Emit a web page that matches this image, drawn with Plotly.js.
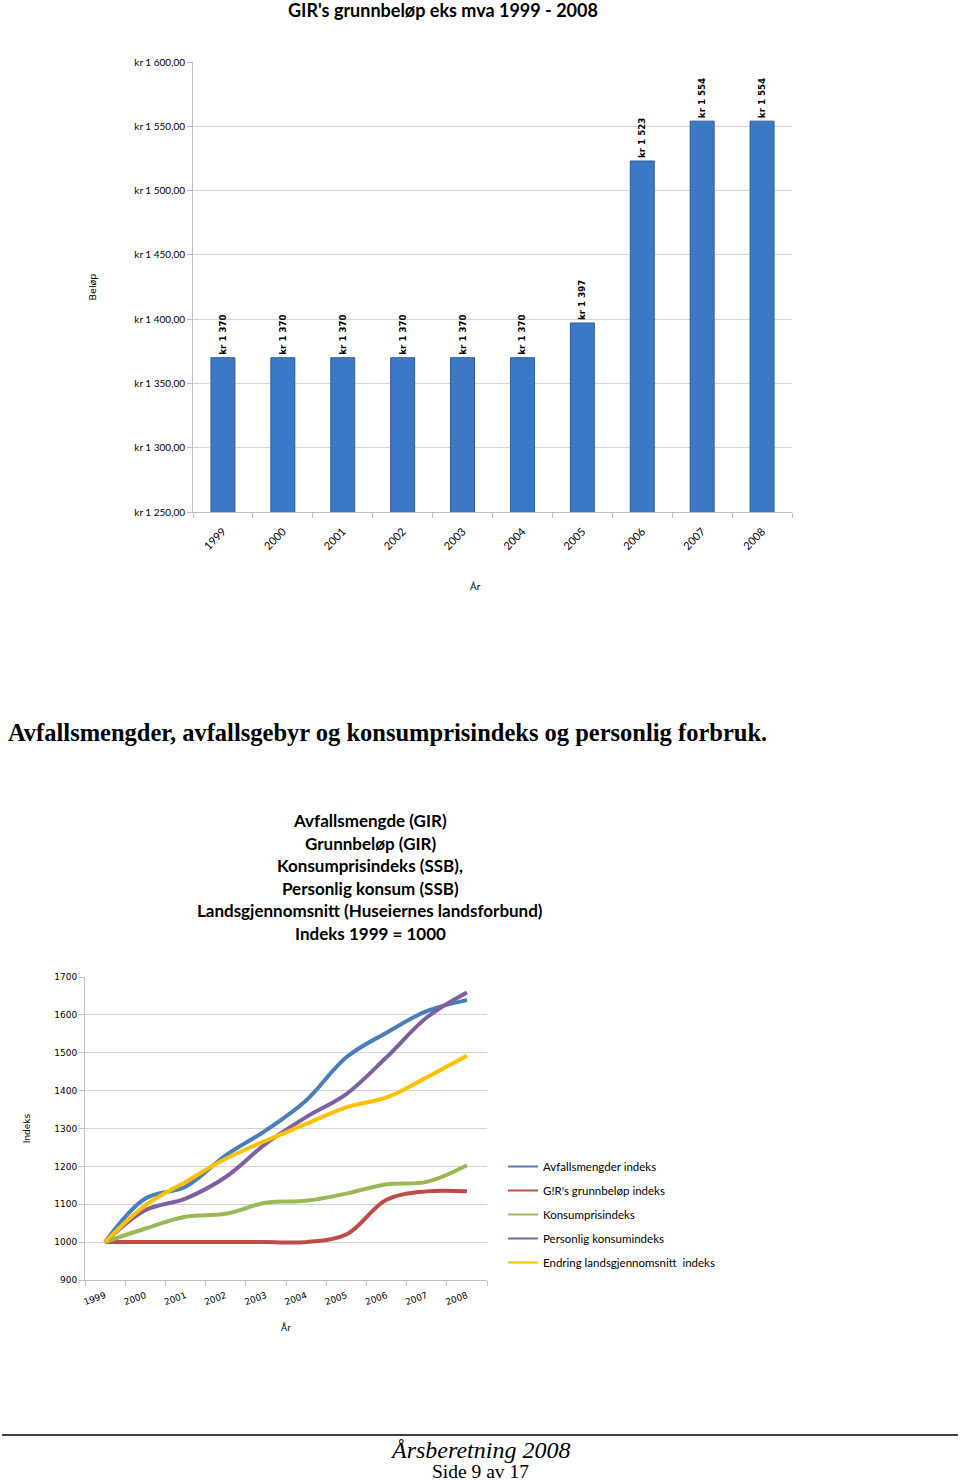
<!DOCTYPE html>
<html>
<head>
<meta charset="utf-8">
<script src="https://cdn.plot.ly/plotly-3.0.1.min.js"></script>
<style>
  html, body { margin: 0; padding: 0; background: #fff; }
  #page { width: 960px; height: 1483px; }
</style>
</head>
<body>
<div id="page"></div>
<script>
const W = 960;
const H = 1483;

// page pixel -> paper coordinates
const px = (p) => p / W;
const py = (p) => 1 - p / H;

const years = ["1999", "2000", "2001", "2002", "2003", "2004", "2005", "2006", "2007", "2008"];

// GIR's grunnbeløp eks mva (kr)
const grunnbelop = [1370, 1370, 1370, 1370, 1370, 1370, 1397, 1523, 1554, 1554];

// Indeks 1999 = 1000
const avfallsmengder = [1000, 1115, 1146, 1229, 1295, 1374, 1488, 1553, 1610, 1639];
const girGrunnbelop = [1000, 1000, 1000, 1000, 1000, 1000, 1020, 1112, 1134, 1134];
const konsumpris = [1000, 1036, 1067, 1075, 1104, 1109, 1128, 1153, 1159, 1203];
const personligKonsum = [1000, 1084, 1115, 1172, 1260, 1330, 1391, 1488, 1593, 1659];
const landsgjennomsnitt = [1000, 1097, 1159, 1220, 1268, 1312, 1356, 1382, 1435, 1492];

const seriesNames = [
  "Avfallsmengder indeks",
  "G!R's grunnbeløp indeks",
  "Konsumprisindeks",
  "Personlig konsumindeks",
  "Endring landsgjennomsnitt  indeks",
];
const seriesValues = [avfallsmengder, girGrunnbelop, konsumpris, personligKonsum, landsgjennomsnitt];
const seriesColors = ["#4a7ebb", "#be4b48", "#98b954", "#7d60a0", "#ffc000"];

const lineTitle = [
  "Avfallsmengde (GIR)",
  "Grunnbeløp (GIR)",
  "Konsumprisindeks (SSB),",
  "Personlig konsum (SSB)",
  "Landsgjennomsnitt (Huseiernes landsforbund)",
  "Indeks 1999 = 1000",
];

const calibri = "Lato, 'Open Sans', sans-serif";
const verdana = "'DejaVu Sans', Verdana, sans-serif";
const times = "'Liberation Serif', 'Times New Roman', serif";

const barTrace = {
  type: "bar",
  x: years,
  y: grunnbelop,
  xaxis: "x",
  yaxis: "y",
  marker: { color: "#3b78c6", line: { color: "#2d5c9c", width: 1 } },
  texttemplate: "kr %{y:,.0f}",
  textposition: "outside",
  textangle: -90,
  constraintext: "none",
  cliponaxis: false,
  textfont: { family: verdana, size: 8.7, weight: "bold", color: "#000" },
  showlegend: false,
  hoverinfo: "skip",
};

// thin copies carry the legend entries, thick copies are drawn on top
const legendTraces = seriesValues.map((vals, i) => ({
  type: "scatter",
  mode: "lines",
  x: years,
  y: vals,
  xaxis: "x2",
  yaxis: "y2",
  name: seriesNames[i],
  legendgroup: "g" + i,
  line: { color: seriesColors[i], width: 2, shape: "spline", smoothing: 1 },
  hoverinfo: "skip",
}));

const lineTraces = seriesValues.map((vals, i) => ({
  type: "scatter",
  mode: "lines",
  x: years,
  y: vals,
  xaxis: "x2",
  yaxis: "y2",
  name: seriesNames[i],
  legendgroup: "g" + i,
  showlegend: false,
  line: { color: seriesColors[i], width: 4, shape: "spline", smoothing: 1 },
  hoverinfo: "skip",
}));

const axisLine = "#bfbfbf";
const gridColor = "#d4d4d4";

const annotations = [
  {
    text: "År",
    xref: "paper", yref: "paper",
    x: px(475), xanchor: "center",
    y: py(586), yanchor: "middle",
    showarrow: false,
    font: { family: calibri, size: 10, color: "#000" },
  },
  {
    text: "Avfallsmengder, avfallsgebyr og konsumprisindeks og personlig forbruk.",
    xref: "paper", yref: "paper",
    x: px(6), xanchor: "left",
    y: py(732), yanchor: "middle",
    showarrow: false,
    font: { family: times, size: 24.5, weight: "bold", color: "#000" },
  },
  {
    text: "<i>Årsberetning 2008</i>",
    xref: "paper", yref: "paper",
    x: 0.5, xanchor: "center",
    y: py(1450), yanchor: "middle",
    showarrow: false,
    font: { family: times, size: 24, color: "#000" },
  },
  {
    text: "Side 9 av 17",
    xref: "paper", yref: "paper",
    x: 0.5, xanchor: "center",
    y: py(1471), yanchor: "middle",
    showarrow: false,
    font: { family: times, size: 19.5, color: "#000" },
  },
];

lineTitle.forEach((line, i) => {
  annotations.push({
    text: line,
    xref: "paper", yref: "paper",
    x: px(370), xanchor: "center",
    y: py(821 + i * 22.4), yanchor: "middle",
    showarrow: false,
    font: { family: calibri, size: 17, weight: "bold", color: "#000" },
  });
});

const layout = {
  width: W,
  height: H,
  margin: { l: 0, r: 0, t: 0, b: 0 },
  paper_bgcolor: "#fff",
  plot_bgcolor: "#fff",
  separators: ", ",
  bargap: 0.6,
  title: {
    text: "GIR's grunnbeløp eks mva 1999 - 2008",
    font: { family: calibri, size: 18, weight: "bold", color: "#000" },
    x: px(443),
    xanchor: "center",
    y: py(11),
    yanchor: "middle",
  },
  xaxis: {
    domain: [px(193), px(792)],
    anchor: "y",
    type: "category",
    range: [-0.5, 9.5],
    tickangle: -45,
    tickfont: { family: calibri, size: 11, color: "#000" },
    ticklabelstandoff: 8,
    ticks: "outside",
    tickson: "boundaries",
    ticklen: 5,
    tickcolor: axisLine,
    showline: true,
    linecolor: axisLine,
    showgrid: false,
  },
  yaxis: {
    domain: [py(512), py(62)],
    anchor: "x",
    range: [1250, 1600],
    dtick: 50,
    tickprefix: "kr ",
    tickformat: ",.2f",
    tickfont: { family: calibri, size: 10, color: "#000" },
    ticks: "outside",
    ticklen: 5,
    tickcolor: axisLine,
    showline: true,
    linecolor: axisLine,
    showgrid: true,
    gridcolor: gridColor,
    zeroline: false,
    title: { text: "Beløp", font: { family: verdana, size: 9.5, color: "#000" }, standoff: 35 },
  },
  xaxis2: {
    domain: [px(85), px(487)],
    anchor: "y2",
    type: "category",
    range: [-0.5, 9.5],
    tickangle: -20,
    tickfont: { family: verdana, size: 9, color: "#000" },
    ticklabelstandoff: 6,
    ticks: "outside",
    tickson: "boundaries",
    ticklen: 5,
    tickcolor: axisLine,
    showline: true,
    linecolor: axisLine,
    showgrid: false,
    title: { text: "År", font: { family: verdana, size: 9, color: "#000" }, standoff: 18 },
  },
  yaxis2: {
    domain: [py(1280), py(977)],
    anchor: "x2",
    range: [900, 1700],
    dtick: 100,
    tickfont: { family: verdana, size: 9, color: "#000" },
    ticks: "outside",
    ticklen: 5,
    tickcolor: axisLine,
    showline: true,
    linecolor: axisLine,
    showgrid: true,
    gridcolor: gridColor,
    zeroline: false,
    title: { text: "Indeks", font: { family: verdana, size: 9, color: "#000" }, standoff: 22 },
  },
  showlegend: true,
  legend: {
    x: px(503),
    xanchor: "left",
    y: py(1152),
    yanchor: "top",
    font: { family: calibri, size: 11.5, color: "#000" },
    bgcolor: "rgba(0,0,0,0)",
    itemwidth: 30,
    tracegroupgap: 5,
  },
  annotations: annotations,
  shapes: [
    {
      type: "line",
      xref: "paper", yref: "paper",
      x0: px(2), x1: px(958),
      y0: py(1435), y1: py(1435),
      line: { color: "#000", width: 1.5 },
    },
  ],
};

Plotly.newPlot("page", [barTrace, ...legendTraces, ...lineTraces], layout, {
  displayModeBar: false,
  staticPlot: true,
});
</script>
</body>
</html>
